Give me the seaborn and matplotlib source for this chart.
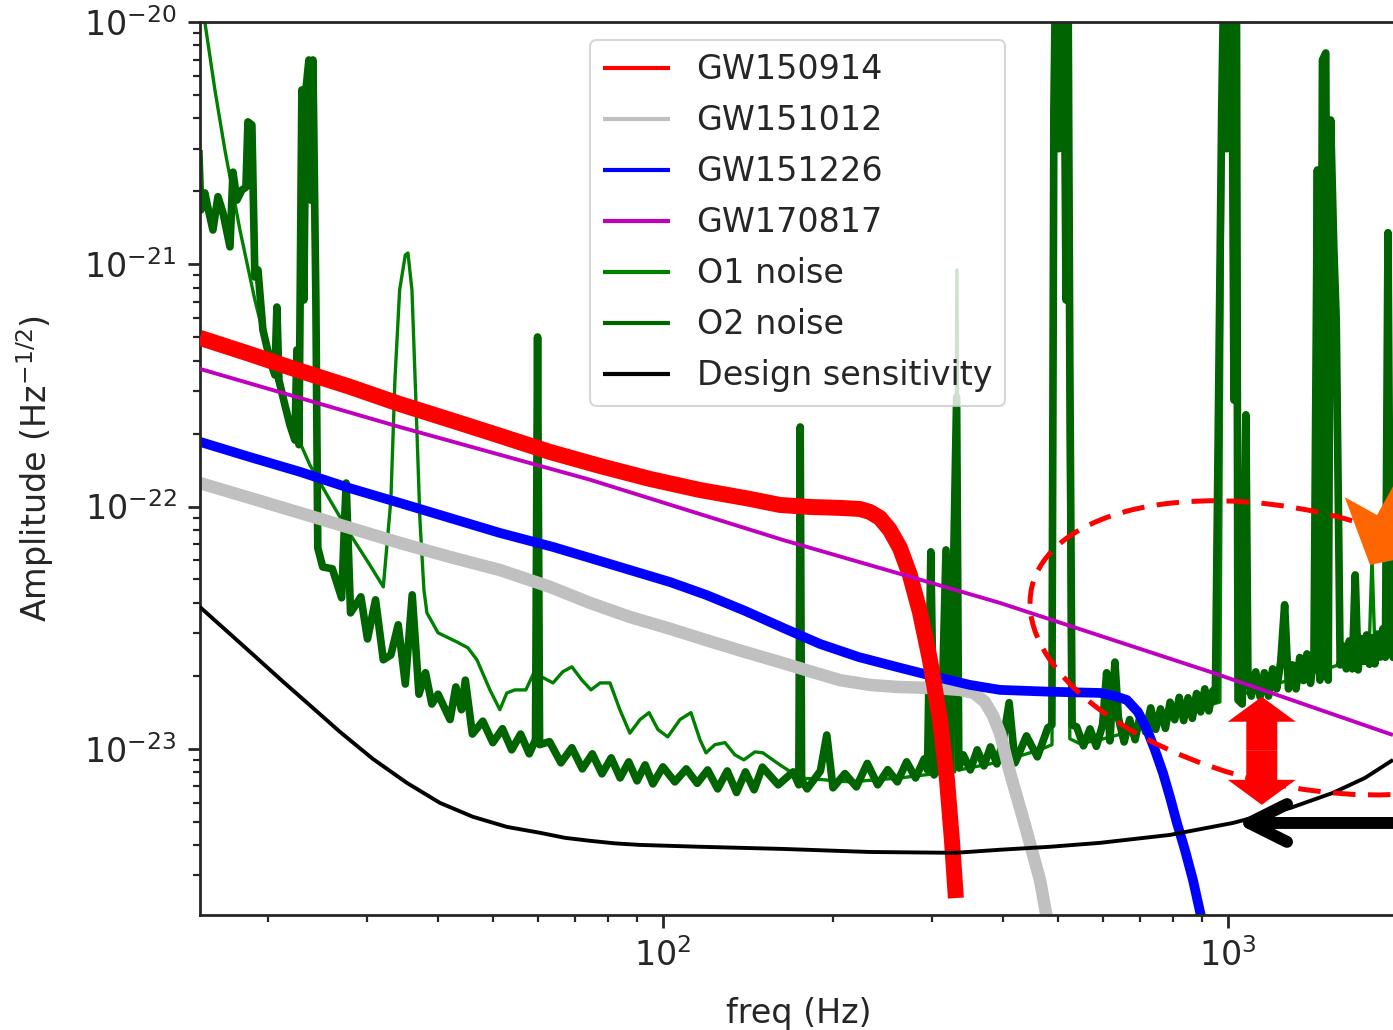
import matplotlib
matplotlib.use("Agg")
import matplotlib.pyplot as plt
import seaborn as sns
from matplotlib.patches import Ellipse, FancyArrow
from matplotlib.transforms import IdentityTransform

sns.set_style("ticks")
plt.rcParams["font.family"] = ["DejaVu Sans"]
plt.rcParams["mathtext.fontset"] = "dejavusans"

# ---------------------------------------------------------------- data
gw150914_freq = [15.15, 18.58, 22.8, 27.93, 34.2, 41.98, 51.45, 63.1, 77.4, 94.8,
                 116.3, 142.6, 161.1, 182.0, 205.8, 223.2, 232.4, 242.2, 252.2, 262.7,
                 273.6, 285.0, 296.9, 309.3, 318.3, 324.7, 330.0]
gw150914_amp = [4.97e-22, 4.26e-22, 3.63e-22, 3.12e-22, 2.65e-22, 2.28e-22, 1.96e-22,
                1.68e-22, 1.47e-22, 1.30e-22, 1.17e-22, 1.075e-22, 1.015e-22, 9.96e-23,
                9.87e-23, 9.77e-23, 9.50e-23, 8.97e-23, 8.00e-23, 6.75e-23, 5.22e-23,
                3.67e-23, 2.33e-23, 1.32e-23, 7.44e-24, 4.21e-24, 2.42e-24]

gw151012_freq = [15.15, 18.58, 22.8, 27.93, 34.2, 41.98, 51.45, 63.1, 74.3, 87.4,
                 102.9, 119.2, 139.7, 163, 185.8, 205.8, 232.4, 259.5, 304.2, 335.6,
                 355.2, 371.5, 383.8, 395, 411.5, 437.2, 464.8, 484.2]
gw151012_amp = [1.25e-22, 1.085e-22, 9.41e-23, 8.16e-23, 7.08e-23, 6.19e-23, 5.47e-23,
                4.66e-23, 4.00e-23, 3.50e-23, 3.13e-23, 2.81e-23, 2.51e-23, 2.26e-23,
                2.06e-23, 1.92e-23, 1.835e-23, 1.80e-23, 1.78e-23, 1.75e-23, 1.70e-23,
                1.56e-23, 1.37e-23, 1.16e-23, 7.95e-24, 4.85e-24, 2.88e-24, 1.71e-24]

gw151226_freq = [15.15, 18.58, 22.8, 27.93, 34.2, 41.98, 51.45, 63.9, 74.3, 87.4,
                 102.9, 119.2, 139.7, 163, 189.6, 222.3, 262.7, 304.2, 349.4, 395,
                 484.2, 594, 631, 662.5, 692.9, 719.2, 742.6, 767.4, 789.5, 812.4,
                 839.1, 867, 903]
gw151226_amp = [1.85e-22, 1.60e-22, 1.39e-22, 1.19e-22, 1.035e-22, 8.97e-23, 7.78e-23,
                6.81e-23, 6.13e-23, 5.47e-23, 4.88e-23, 4.32e-23, 3.71e-23, 3.16e-23,
                2.71e-23, 2.39e-23, 2.16e-23, 1.98e-23, 1.835e-23, 1.75e-23, 1.72e-23,
                1.70e-23, 1.65e-23, 1.59e-23, 1.42e-23, 1.20e-23, 9.90e-24, 7.95e-24,
                6.33e-24, 4.94e-24, 3.83e-24, 2.88e-24, 1.88e-24]

gw170817_freq = [15.15, 34.2, 74.3, 163, 259.5, 395, 940.8, 1959]
gw170817_amp = [3.70e-22, 2.13e-22, 1.29e-22, 7.28e-23, 5.32e-23, 4.00e-23, 2.06e-23,
                1.14e-23]

# (frequency in Hz, amplitude) pairs of the measured noise spectra
o1_noise = [
    (15.15, 1.38e-20), (16.11, 5.24e-21), (16.78, 2.96e-21), (17.84, 1.385e-21),
    (18.96, 7.12e-22), (20.16, 4.03e-22), (21.87, 2.28e-22), (23.72, 1.485e-22),
    (25.74, 1.065e-22), (28.0, 7.63e-23), (30.29, 5.74e-23), (32.0, 4.66e-23),
    (33.0, 1.065e-22), (33.55, 3.33e-22), (34.2, 7.83e-22), (35.0, 1.092e-21),
    (35.38, 1.113e-21), (35.96, 7.83e-22), (36.54, 2.75e-22), (37.15, 8.81e-23),
    (37.76, 4.53e-23), (38.22, 3.64e-23), (40.0, 3.01e-23), (43.19, 2.76e-23),
    (45.17, 2.61e-23), (46.86, 2.33e-23), (49.41, 1.75e-23), (51.45, 1.45e-23),
    (52.94, 1.70e-23), (54.7, 1.75e-23), (57.2, 1.75e-23), (59.1, 2.06e-23),
    (63.9, 1.87e-23), (66.5, 2.08e-23), (69.0, 2.18e-23), (71.9, 1.92e-23),
    (74.6, 1.75e-23), (77.4, 1.87e-23), (80.6, 1.87e-23), (83.9, 1.45e-23),
    (87.4, 1.16e-23), (91.1, 1.32e-23), (94.5, 1.41e-23), (98.0, 1.20e-23),
    (102, 1.12e-23), (107.2, 1.32e-23), (112.1, 1.41e-23), (116.3, 1.09e-23),
    (119.2, 9.62e-24), (123.6, 1.04e-23), (128.8, 1.06e-23), (134.1, 9.44e-24),
    (139.1, 9.00e-24), (145.5, 9.71e-24), (150.3, 9.62e-24), (161.1, 8.58e-24),
    (174.8, 7.58e-24), (214.3, 7.30e-24), (262.7, 7.58e-24), (322.1, 8.03e-24),
    (328.4, 8.03e-24), (331.4, 9.47e-22), (334.4, 8.18e-24), (395, 8.83e-24),
    (464.8, 9.90e-24), (488.2, 1.04e-23), (496, 2e-20), (517, 2e-20),
    (525, 1.1e-23), (547, 1.05e-23), (594, 1.09e-23), (727.8, 1.24e-23),
    (892.2, 1.475e-23), (967.8, 1.56e-23), (983.8, 2e-20), (1033, 2e-20),
    (1050, 1.67e-23), (1187, 1.82e-23), (1341, 1.98e-23), (1437, 2.08e-23),
    (1491, 3.94e-21), (1515, 2.16e-23), (1777, 2.44e-23), (1799, 6.19e-23),
    (1821, 2.49e-23), (1959, 2.66e-23),
]

o2_noise = [
    (15.09, 2.96e-21), (15.21, 1.675e-21), (15.46, 1.97e-21), (15.65, 1.72e-21),
    (15.98, 1.385e-21), (16.31, 1.90e-21), (16.65, 1.63e-21), (17.13, 1.18e-21),
    (17.34, 2.40e-21), (17.62, 1.84e-21), (17.98, 2.025e-21), (18.28, 2.08e-21),
    (18.43, 3.87e-21), (18.73, 3.76e-21), (18.96, 8.86e-22), (19.20, 9.47e-22),
    (19.59, 5.36e-22), (20.16, 4.03e-22), (20.57, 3.49e-22), (20.74, 6.66e-22),
    (20.91, 3.33e-22), (21.43, 2.62e-22), (21.87, 2.17e-22), (22.32, 1.88e-22),
    (22.50, 4.43e-22), (22.69, 1.80e-22), (22.96, 5.24e-21), (23.15, 7.12e-22),
    (23.34, 5.24e-21), (23.63, 6.97e-21), (23.82, 1.84e-21), (24.02, 6.97e-21),
    (24.31, 7.12e-22), (24.5, 6.75e-23), (25, 5.63e-23), (26, 5.53e-23),
    (27, 4.20e-23), (27.5, 1.25e-22), (28, 3.64e-23), (29.2, 4.24e-23),
    (30, 2.84e-23), (31, 4.12e-23), (32, 2.33e-23), (33, 2.44e-23),
    (34, 3.25e-23), (35, 1.85e-23), (36, 4.32e-23), (37, 1.68e-23),
    (38, 2.06e-23), (39, 1.53e-23), (40, 1.68e-23), (42, 1.32e-23),
    (43, 1.80e-23), (44, 1.45e-23), (44.7, 1.92e-23), (46, 1.15e-23),
    (48, 1.30e-23), (50, 1.06e-23), (52, 1.21e-23), (54, 9.90e-24),
    (56, 1.15e-23), (58, 9.53e-24), (59.5, 1.09e-23), (60, 5.01e-22),
    (60.5, 1.04e-23), (63, 1.07e-23), (66, 8.75e-24), (69, 1.01e-23),
    (72, 8.26e-24), (75, 9.53e-24), (78, 7.88e-24), (81, 9.17e-24),
    (84, 7.58e-24), (87, 8.83e-24), (90, 7.37e-24), (93, 8.58e-24),
    (96, 7.16e-24), (100, 8.42e-24), (105, 7.30e-24), (110, 8.26e-24),
    (115, 7.20e-24), (120, 8.18e-24), (125, 6.83e-24), (130, 8.10e-24),
    (135, 6.60e-24), (140, 8.03e-24), (145, 6.77e-24), (150, 8.40e-24),
    (160, 7.10e-24), (170, 8.03e-24), (174, 7.10e-24), (175, 2.13e-22),
    (176, 7.44e-24), (180, 6.83e-24), (190, 8.10e-24), (195, 1.14e-23),
    (200, 6.90e-24), (210, 7.90e-24), (220, 6.96e-24), (230, 8.70e-24),
    (240, 7.10e-24), (250, 8.20e-24), (260, 7.30e-24), (270, 8.83e-24),
    (280, 7.58e-24), (290, 9.08e-24), (294, 8.18e-24), (298, 6.50e-23),
    (302, 7.80e-24), (310, 8.58e-24), (317, 6.62e-23), (322, 8.03e-24),
    (331, 2.83e-22), (334, 8.34e-24), (340, 9.44e-24), (350, 8.18e-24),
    (360, 9.90e-24), (370, 8.50e-24), (380, 1.018e-23), (390, 8.66e-24),
    (400, 1.078e-23), (410, 1.55e-23), (420, 8.75e-24), (440, 1.13e-23),
    (460, 9.26e-24), (480, 1.22e-23), (488, 1.255e-23), (492, 4.33e-21),
    (496, 2e-20), (502, 3.0e-21), (506, 2e-20), (512, 2e-20),
    (517, 7.12e-22), (521, 2e-20), (525, 4.03e-22), (530, 1.255e-23),
    (540, 1.231e-23), (555, 1.028e-23), (570, 1.208e-23), (585, 1.023e-23),
    (600, 1.255e-23), (610, 2.06e-23), (618, 1.078e-23), (631, 2.28e-23),
    (640, 1.341e-23), (655, 1.067e-23), (670, 1.32e-23), (685, 1.09e-23),
    (700, 1.385e-23), (715, 1.174e-23), (730, 1.475e-23), (745, 1.203e-23),
    (760, 1.461e-23), (775, 1.214e-23), (790, 1.557e-23), (805, 1.318e-23),
    (820, 1.630e-23), (835, 1.307e-23), (850, 1.624e-23), (865, 1.335e-23),
    (880, 1.691e-23), (895, 1.42e-23), (910, 1.767e-23), (925, 1.433e-23),
    (940, 1.734e-23), (950, 1.59e-23), (975, 4.33e-21), (985, 2e-20),
    (995, 3.0e-21), (1005, 2e-20), (1015, 2e-20), (1025, 2.75e-22),
    (1035, 2e-20), (1042, 1.59e-23), (1060, 1.53e-23), (1076, 2.39e-22),
    (1085, 2.018e-23), (1100, 1.65e-23), (1120, 2.077e-23), (1140, 1.638e-23),
    (1160, 2.06e-23), (1180, 1.65e-23), (1200, 2.137e-23), (1220, 1.767e-23),
    (1240, 2.284e-23), (1260, 3.93e-23), (1280, 1.767e-23), (1300, 2.221e-23),
    (1320, 1.767e-23), (1340, 2.381e-23), (1360, 1.913e-23), (1380, 2.464e-23),
    (1400, 1.863e-23), (1420, 2.399e-23), (1440, 2.45e-21), (1455, 1.92e-23),
    (1470, 6.97e-21), (1490, 7.45e-21), (1505, 1.92e-23), (1520, 3.94e-21),
    (1540, 1.15e-21), (1555, 5.89e-22), (1580, 2.22e-23), (1600, 2.659e-23),
    (1620, 2.137e-23), (1640, 2.788e-23), (1660, 2.137e-23), (1680, 5.22e-23),
    (1700, 2.116e-23), (1720, 2.852e-23), (1740, 2.293e-23), (1760, 2.952e-23),
    (1780, 2.233e-23), (1800, 2.874e-23), (1820, 2.241e-23), (1840, 2.975e-23),
    (1860, 2.390e-23), (1880, 3.126e-23), (1900, 2.388e-23), (1920, 1.35e-21),
    (1940, 3.008e-23), (1960, 2.383e-23), (1980, 3.215e-23), (2000, 2.594e-23),
]
o1_freq, o1_amp = map(list, zip(*o1_noise))
o2_freq, o2_amp = map(list, zip(*o2_noise))

design_freq = [15.15, 17.13, 19.11, 21.17, 23.44, 26.82, 30.67, 35.23, 40.30, 46.09,
               52.94, 60.58, 67.07, 74.3, 82.2, 91.1, 116.3, 163, 232, 329,
               395, 484.2, 594, 789.5, 1020, 1290, 1535, 1748, 1960]
design_amp = [3.85e-23, 2.98e-23, 2.37e-23, 1.91e-23, 1.55e-23, 1.174e-23, 9.08e-24, 7.23e-24,
              5.98e-24, 5.24e-24, 4.76e-24, 4.50e-24, 4.29e-24, 4.17e-24, 4.07e-24, 4.01e-24,
              3.94e-24, 3.86e-24, 3.75e-24, 3.72e-24, 3.83e-24, 3.94e-24, 4.09e-24, 4.41e-24,
              4.94e-24, 5.70e-24, 6.58e-24, 7.58e-24, 9.0e-24]

# ---------------------------------------------------------------- figure
fig = plt.figure(figsize=(13.93, 10.30), dpi=100)
ax = fig.add_axes([200 / 1393, 115 / 1030, 1198 / 1393, 893 / 1030])
ax.set_xscale("log")
ax.set_yscale("log")
ax.set_xlim(15.16, 2000)
ax.set_ylim(2.06e-24, 1e-20)

series = [
    ("GW150914", gw150914_freq, gw150914_amp, "#ff0000", 11.5, 3),
    ("GW151012", gw151012_freq, gw151012_amp, "#c0c0c0", 9.0, 2),
    ("GW151226", gw151226_freq, gw151226_amp, "#0000ff", 7.0, 2),
    ("GW170817", gw170817_freq, gw170817_amp, "#bf00bf", 2.8, 3),
    ("O1 noise", o1_freq, o1_amp, "green", 2.4, 1),
    ("O2 noise", o2_freq, o2_amp, "darkgreen", 5.5, 1.1),
    ("Design sensitivity", design_freq, design_amp, "black", 2.8, 3),
]
for name, f, a, color, lw, z in series:
    sns.lineplot(x=f, y=a, ax=ax, color=color, lw=lw, label=name,
                 estimator=None, sort=False, legend=False, zorder=z,
                 solid_capstyle="butt")

# ---------------------------------------------------------------- axes styling
ax.tick_params(axis="both", which="major", length=9, width=2.0, labelsize=24,
               pad=8, direction="out", colors="0.15")
ax.tick_params(axis="both", which="minor", length=5.3, width=1.6, colors="0.15")
for s in ax.spines.values():
    s.set_linewidth(2.0)
    s.set_color("0.15")
ax.set_xlabel("freq (Hz)", fontsize=24, labelpad=17, color="0.15")
ax.set_ylabel("Amplitude (Hz$^{-1/2}$)", fontsize=24, labelpad=20, color="0.15")

leg = ax.legend(loc="upper left", bbox_to_anchor=(0.3255, 0.98), borderaxespad=0,
                fontsize=24, labelspacing=0.54, handlelength=2.0, handletextpad=0.8,
                borderpad=0.4, frameon=True, fancybox=True, framealpha=0.8,
                edgecolor="0.8")
leg.get_frame().set_linewidth(1.5)
for h in leg.legend_handles:
    h.set_linewidth(3.0)
for t in leg.get_texts():
    t.set_color("0.15")

# ---------------------------------------------------------------- annotations
# gap between O2 noise and design sensitivity near 1 kHz
gap_f, gap_top, gap_bot = 1148, 1.64e-23, 5.87e-24
gap_mid = (gap_top * gap_bot) ** 0.5
for tip in (gap_top, gap_bot):
    ax.annotate("", xy=(gap_f, tip), xytext=(gap_f, gap_mid),
                arrowprops=dict(arrowstyle="simple,head_length=0.5,head_width=1.36,tail_width=0.62",
                                fc="red", ec="red", lw=0, mutation_scale=36,
                                shrinkA=0, shrinkB=0),
                zorder=6)

# arrow pointing at the design curve at ~1 kHz
ax.annotate("", xy=(1033, 4.94e-24), xytext=(3000, 4.94e-24),
            arrowprops=dict(arrowstyle="->", lw=8.6, color="black", mutation_scale=68,
                            shrinkA=0, shrinkB=0, capstyle="round", joinstyle="round"),
            annotation_clip=False, zorder=6)

# dashed ellipse around the high-frequency noise
ecx, ecy = ax.transData.transform((1314, 2.61e-23))
fig.add_artist(Ellipse((ecx, ecy), 540, 275, angle=-13, fill=False, ec="red", lw=3.6,
                       ls=(0, (4.5, 2.5)), transform=IdentityTransform(), zorder=5))

# orange arrow pointing into the noise band
otx, oty = ax.transData.transform((1784, 5.74e-23))
fig.add_artist(FancyArrow(otx + 120, oty + 216, -120, -216, width=36, head_width=110,
                          head_length=47, length_includes_head=True, color="#ff6600",
                          lw=0, transform=IdentityTransform(), zorder=5))

fig.savefig("out.png", dpi=100)
